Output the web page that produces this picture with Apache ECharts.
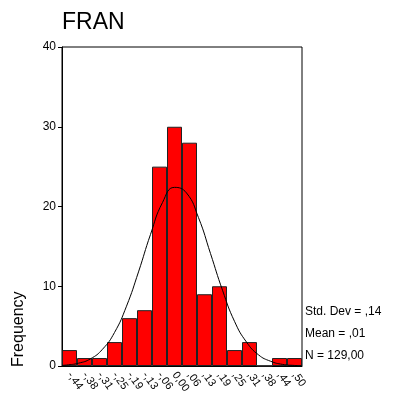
<!DOCTYPE html>
<html><head><meta charset="utf-8">
<script src="https://cdn.jsdelivr.net/npm/echarts@6/dist/echarts.min.js"></script>
<style>html,body{margin:0;padding:0;background:#fff}#c{width:394px;height:398px}</style>
</head><body><div id="c"></div>
<script>
var categories = ['-,44','-,38','-,31','-,25','-,19','-,13','-,06','0,00',',06',',13',',19',',25',',31',',38',',44',',50'];
var frequencies = [2,1,1,3,6,7,25,30,28,9,10,2,3,0,1,1];
var curveX = [-0.46875,-0.45,-0.40,-0.35,-0.30,-0.25,-0.20,-0.15,-0.10,-0.05,0.00,0.05,0.10,0.15,0.20,0.25,0.30,0.35,0.40,0.45,0.50,0.53125];
var curveY = [0.08,0.12,0.35,0.9,2.1,4.2,7.5,11.8,16.5,20.5,22.4,21.7,18.6,14.1,9.5,5.6,3.0,1.4,0.6,0.2,0.07,0.03];
var yTicks = [0,10,20,30,40];
var stats = ['Std. Dev = ,14','Mean = ,01','N = 129,00'];
var titleText = 'FRAN';
var yName = 'Frequency';

var chart = echarts.init(document.getElementById('c'), null, {renderer:'canvas'});
var font = 'Liberation Sans, Arial, sans-serif';
var curve = curveX.map(function(x,i){return [x, curveY[i]];});
chart.setOption({
  animation:false,
  backgroundColor:'#fff',
  textStyle:{fontFamily:font},
  title:{text:titleText,left:57,top:6,textStyle:{fontFamily:font,fontSize:23,fontWeight:'normal',color:'#000'}},
  grid:{left:62,top:47,right:92,bottom:32,show:true,borderColor:'#000',borderWidth:1,backgroundColor:'transparent'},
  xAxis:[{
    type:'category',data:categories,
    axisLine:{lineStyle:{color:'#000',width:1}},
    axisTick:{alignWithLabel:true,length:4,lineStyle:{color:'#000'}},
    axisLabel:{interval:0,rotate:-55,fontSize:11,color:'#000',fontFamily:font,margin:7}
  },{
    type:'value',min:-0.46875,max:0.53125,show:false
  }],
  yAxis:{type:'value',min:yTicks[0],max:yTicks[yTicks.length-1],interval:10,
    splitLine:{show:false},
    axisLine:{show:true,onZero:false,lineStyle:{color:'#000',width:1}},
    axisTick:{show:true,length:4,lineStyle:{color:'#000'}},
    axisLabel:{fontSize:12,color:'#000',fontFamily:font,margin:6}
  },
  series:[{
    type:'bar',data:frequencies,barCategoryGap:'0%',
    itemStyle:{color:'#ff0000',borderColor:'#222',borderWidth:1}
  },{
    type:'line',xAxisIndex:1,data:curve,smooth:true,showSymbol:false,
    lineStyle:{color:'#000',width:1},z:5
  }],
  graphic:[
    {type:'text',x:19,y:367,rotation:Math.PI/2,style:{text:yName,font:'16px '+font,fill:'#000',textAlign:'left',textVerticalAlign:'middle'}},
    {type:'text',x:305,y:312,style:{text:stats[0],font:'12px '+font,fill:'#000',textVerticalAlign:'middle'}},
    {type:'text',x:305,y:334,style:{text:stats[1],font:'12px '+font,fill:'#000',textVerticalAlign:'middle'}},
    {type:'text',x:305,y:356,style:{text:stats[2],font:'12px '+font,fill:'#000',textVerticalAlign:'middle'}}
  ]
});
</script></body></html>
